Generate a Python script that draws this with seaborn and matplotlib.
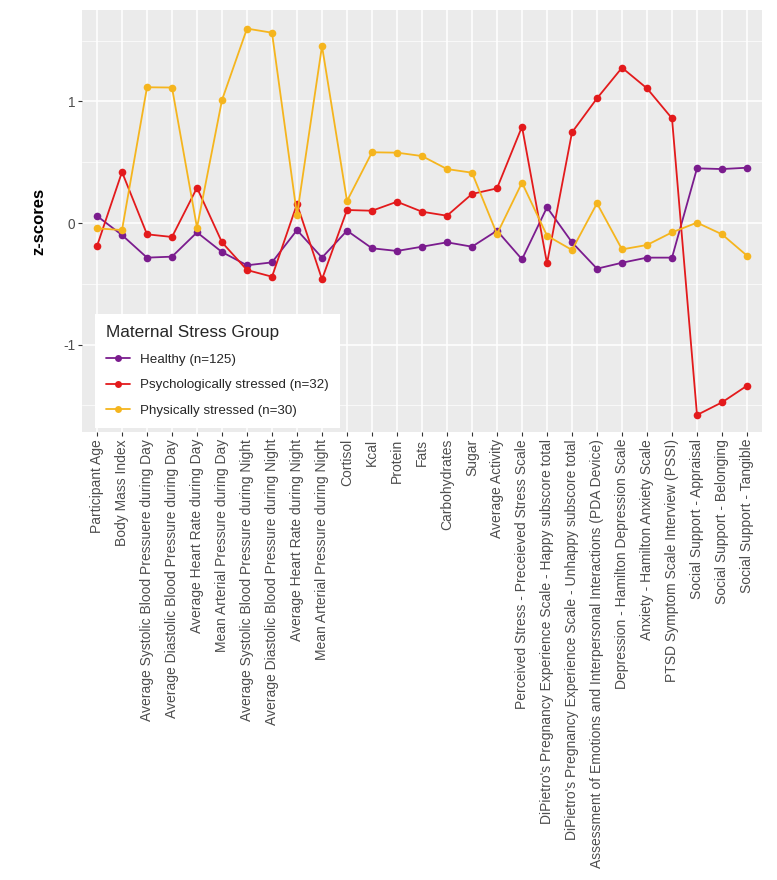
import matplotlib
matplotlib.use("Agg")
import matplotlib.pyplot as plt
import seaborn as sns
import pandas as pd
import numpy as np
from matplotlib.lines import Line2D

categories = [
    "Participant Age", "Body Mass Index",
    "Average Systolic Blood Pressuere during Day",
    "Average Diastolic Blood Pressure during Day",
    "Average Heart Rate during Day", "Mean Arterial Pressure during Day",
    "Average Systolic Blood Pressure during Night",
    "Average Diastolic Blood Pressure during Night",
    "Average Heart Rate during Night", "Mean Arterial Pressure during Night",
    "Cortisol", "Kcal", "Protein", "Fats", "Carbohydrates", "Sugar",
    "Average Activity", "Perceived Stress - Preceieved Stress Scale",
    "DiPietro's Pregnancy Experience Scale - Happy subscore total",
    "DiPietro's Pregnancy Experience Scale - Unhappy subscore total",
    "Assessment of Emotions and Interpersonal Interactions (PDA Device)",
    "Depression - Hamilton Depression Scale",
    "Anxiety - Hamilton Anxiety Scale",
    "PTSD Symptom Scale Interview (PSSI)",
    "Social Support - Appraisal", "Social Support - Belonging",
    "Social Support - Tangible",
]

healthy = [0.058, -0.099, -0.285, -0.277, -0.077, -0.239, -0.348, -0.324, -0.058,
           -0.285, -0.063, -0.208, -0.230, -0.195, -0.159, -0.195, -0.063, -0.299,
           0.129, -0.159, -0.376, -0.327, -0.285, -0.285, 0.450, 0.444, 0.455]
psych = [-0.190, 0.420, -0.093, -0.115, 0.290, -0.159, -0.387, -0.442, 0.156,
         -0.463, 0.107, 0.101, 0.175, 0.093, 0.060, 0.239, 0.285, 0.793,
         -0.332, 0.746, 1.026, 1.278, 1.108, 0.861, -1.580, -1.476, -1.339]
phys = [-0.044, -0.058, 1.117, 1.115, -0.038, 1.012, 1.600, 1.566, 0.066,
        1.457, 0.181, 0.582, 0.579, 0.551, 0.444, 0.414, -0.091, 0.332,
        -0.104, -0.222, 0.162, -0.217, -0.181, -0.077, 0.003, -0.093, -0.269]

groups = ["Healthy (n=125)", "Psychologically stressed (n=32)", "Physically stressed (n=30)"]
colors = ["#7B1C8E", "#E31A1C", "#F5B51E"]

df = pd.concat([
    pd.DataFrame({"Variable": categories, "z": vals, "group": g})
    for g, vals in zip(groups, [healthy, psych, phys])
], ignore_index=True)

sns.set_theme(style="darkgrid")
plt.rcParams["font.family"] = ["Liberation Sans", "DejaVu Sans"]

fig = plt.figure(figsize=(7.77, 8.8), dpi=100)
ax = fig.add_axes([82 / 777, 1 - 432 / 880, 680 / 777, 422 / 880])
ax.set_facecolor("#EBEBEB")

sns.lineplot(data=df, x="Variable", y="z", hue="group", hue_order=groups,
             palette=colors, marker="o", markersize=5.5, markeredgewidth=0,
             linewidth=1.3, sort=False, ax=ax, legend=False)

ax.set_xlim(-0.6, len(categories) - 0.4)
ax.set_ylim(-1.72, 1.753)
ax.set_yticks([-1, 0, 1])
ax.set_yticklabels(["-1", "0", "1"])
ax.set_yticks([-1.5, -0.5, 0.5, 1.5], minor=True)
ax.set_xticks(range(len(categories)))
ax.set_xticklabels(categories, rotation=90, fontsize=10.0, color="#4D4D4D")
ax.tick_params(axis="y", labelsize=9.8, labelcolor="#4D4D4D")
ax.tick_params(axis="both", which="major", length=3, width=0.8, color="#333333",
               bottom=True, left=True, pad=2)
ax.tick_params(axis="y", which="minor", length=0)
ax.grid(which="major", color="white", linewidth=1.1)
ax.grid(which="minor", axis="y", color="white", linewidth=0.5)
for s in ax.spines.values():
    s.set_visible(False)

ax.set_xlabel("")
ax.set_ylabel("z-scores", fontsize=12, color="black", fontweight="bold", labelpad=12)

handles = [Line2D([0], [0], color=c, marker="o", markersize=5, markeredgewidth=0,
                  linewidth=1.3) for c in colors]
leg = ax.legend(handles, groups, title="Maternal Stress Group", loc="lower left",
                bbox_to_anchor=(0.019, 0.01), borderaxespad=0, frameon=True,
                fancybox=False, facecolor="white", edgecolor="white", framealpha=1,
                fontsize=9.6, title_fontsize=12.3, alignment="left",
                handlelength=1.8, labelspacing=1.0, borderpad=0.8)
leg.get_frame().set_linewidth(0)

fig.savefig("out.png", dpi=100)
